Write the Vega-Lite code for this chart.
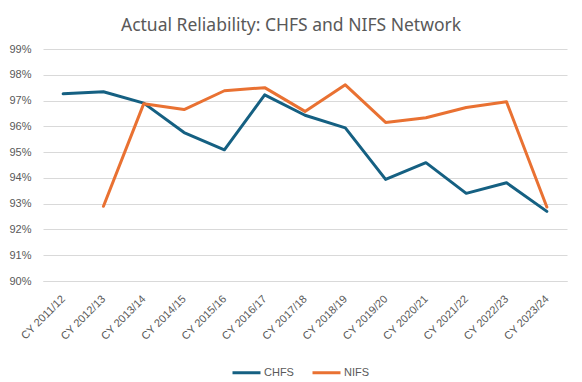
{
  "$schema": "https://vega.github.io/schema/vega-lite/v6.json",
  "autosize": {"type": "none"},
  "width": 524,
  "height": 232,
  "padding": {"left": 43, "top": 49, "right": 15, "bottom": 101},
  "background": "white",
  "config": {
    "view": {"stroke": null},
    "axis": {"labelColor": "#595959", "labelFont": "Liberation Sans", "labelFontSize": 11, "gridColor": "#D9D9D9", "gridWidth": 1},
    "legend": {"labelColor": "#595959", "labelFont": "Liberation Sans", "labelFontSize": 11}
  },
  "title": {
    "text": "Actual Reliability: CHFS and NIFS Network",
    "font": "Noto Sans",
    "fontSize": 17.5,
    "fontWeight": "normal",
    "color": "#595959",
    "anchor": "middle",
    "dx": -14,
    "offset": 9
  },
  "data": {
    "values": [
      {"year": "CY 2011/12", "series": "CHFS", "value": 0.9726},
      {"year": "CY 2012/13", "series": "CHFS", "value": 0.9734},
      {"year": "CY 2013/14", "series": "CHFS", "value": 0.9690},
      {"year": "CY 2014/15", "series": "CHFS", "value": 0.9576},
      {"year": "CY 2015/16", "series": "CHFS", "value": 0.9509},
      {"year": "CY 2016/17", "series": "CHFS", "value": 0.9722},
      {"year": "CY 2017/18", "series": "CHFS", "value": 0.9643},
      {"year": "CY 2018/19", "series": "CHFS", "value": 0.9594},
      {"year": "CY 2019/20", "series": "CHFS", "value": 0.9394},
      {"year": "CY 2020/21", "series": "CHFS", "value": 0.9459},
      {"year": "CY 2021/22", "series": "CHFS", "value": 0.9340},
      {"year": "CY 2022/23", "series": "CHFS", "value": 0.9381},
      {"year": "CY 2023/24", "series": "CHFS", "value": 0.9270},
      {"year": "CY 2012/13", "series": "NIFS", "value": 0.9290},
      {"year": "CY 2013/14", "series": "NIFS", "value": 0.9688},
      {"year": "CY 2014/15", "series": "NIFS", "value": 0.9665},
      {"year": "CY 2015/16", "series": "NIFS", "value": 0.9738},
      {"year": "CY 2016/17", "series": "NIFS", "value": 0.9750},
      {"year": "CY 2017/18", "series": "NIFS", "value": 0.9658},
      {"year": "CY 2018/19", "series": "NIFS", "value": 0.9761},
      {"year": "CY 2019/20", "series": "NIFS", "value": 0.9615},
      {"year": "CY 2020/21", "series": "NIFS", "value": 0.9633},
      {"year": "CY 2021/22", "series": "NIFS", "value": 0.9673},
      {"year": "CY 2022/23", "series": "NIFS", "value": 0.9695},
      {"year": "CY 2023/24", "series": "NIFS", "value": 0.9287}
    ]
  },
  "mark": {"type": "line", "strokeWidth": 3, "strokeCap": "round", "strokeJoin": "round"},
  "encoding": {
    "x": {
      "field": "year",
      "type": "ordinal",
      "sort": null,
      "scale": {"type": "point", "padding": 0.5},
      "axis": {"title": null, "labelAngle": -45, "labelAlign": "right", "labelBaseline": "middle", "labelPadding": 16, "ticks": false, "domain": true, "domainColor": "#D9D9D9", "grid": false}
    },
    "y": {
      "field": "value",
      "type": "quantitative",
      "scale": {"domain": [0.9, 0.99], "nice": false, "zero": false},
      "axis": {"title": null, "format": ".0%", "values": [0.9, 0.91, 0.92, 0.93, 0.94, 0.95, 0.96, 0.97, 0.98, 0.99], "ticks": false, "domain": false, "labelPadding": 12}
    },
    "color": {
      "field": "series",
      "type": "nominal",
      "scale": {"domain": ["CHFS", "NIFS"], "range": ["#156082", "#E97132"]},
      "legend": {"title": null, "orient": "none", "direction": "horizontal", "legendX": 188, "legendY": 308, "symbolType": "stroke", "symbolSize": 784, "symbolStrokeWidth": 3, "labelOffset": 2, "columnPadding": 12}
    }
  }
}
